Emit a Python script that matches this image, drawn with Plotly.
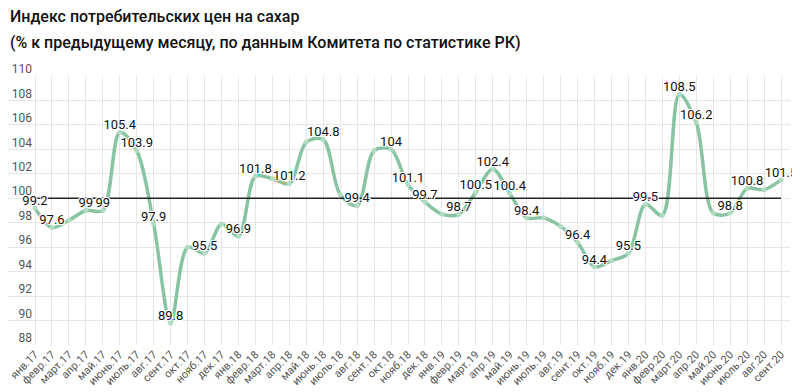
import plotly.graph_objects as go

months = ["янв.17","февр.17","март.17","апр.17","май.17","июнь.17","июль.17","авг.17","сент.17","окт.17","нояб.17","дек.17",
          "янв.18","февр.18","март.18","апр.18","май.18","июнь.18","июль.18","авг.18","сент.18","окт.18","нояб.18","дек.18",
          "янв.19","февр.19","март.19","апр.19","май.19","июнь.19","июль.19","авг.19","сент.19","окт.19","нояб.19","дек.19",
          "янв.20","февр.20","март.20","апр.20","май.20","июнь.20","июль.20","авг.20","сент.20"]
values = [99.2, 97.6, 98.2, 99.0, 99.0, 105.4, 103.9, 97.9, 89.8, 96.0, 95.5, 97.9,
          96.9, 101.8, 101.6, 101.2, 104.6, 104.8, 100.3, 99.4, 103.9, 104.0, 101.1, 99.7,
          98.7, 98.7, 100.5, 102.4, 100.4, 98.4, 98.4, 97.7, 96.4, 94.4, 94.9, 95.5,
          99.5, 98.6, 108.5, 106.2, 98.8, 98.8, 100.8, 100.7, 101.5]
labels = ["99.2","97.6","","99","99","105.4","103.9","97.9","89.8","","95.5","",
          "96.9","101.8","","101.2","","104.8","","99.4","","104","101.1","99.7",
          "","98.7","100.5","102.4","100.4","98.4","","","96.4","94.4","","95.5",
          "99.5","","108.5","106.2","","98.8","100.8","","101.5"]
baseline = 100
title_lines = ["Индекс потребительских цен на сахар",
               "(% к предыдущему месяцу, по данным Комитета по статистике РК)"]

fig = go.Figure()
fig.add_trace(go.Scatter(
    x=months, y=values, mode="lines+markers",
    line=dict(color="#88c4a2", width=3.5, shape="spline", smoothing=0.9),
    marker=dict(size=5, color="#b3dcc4"),
    showlegend=False))
fig.add_trace(go.Scatter(
    x=[months[0], months[-1]], y=[baseline, baseline], mode="lines",
    line=dict(color="#222222", width=1.5), hoverinfo="skip", showlegend=False))
fig.add_trace(go.Scatter(
    x=months, y=values, mode="text",
    text=labels, textposition="top center",
    textfont=dict(family="Roboto", size=13, color="#111111",
                  shadow="-1px -1px 0 #fff, 1px -1px 0 #fff, -1px 1px 0 #fff, 1px 1px 0 #fff, 0 0 2px #fff"),
    showlegend=False, hoverinfo="skip", cliponaxis=False))

fig.add_annotation(text=title_lines[0], xref="paper", yref="paper",
                   x=0.0, y=1.223, xanchor="left", yanchor="middle", showarrow=False,
                   font=dict(family="Roboto", size=16, color="#111111", weight=500))
fig.add_annotation(text=title_lines[1], xref="paper", yref="paper",
                   x=0.0, y=1.126, xanchor="left", yanchor="middle", showarrow=False,
                   font=dict(family="Roboto", size=16, color="#111111", weight=500))

fig.update_layout(
    width=792, height=384,
    margin=dict(l=0, r=10, t=68, b=47),
    paper_bgcolor="white", plot_bgcolor="white",
    font=dict(family="Roboto", color="#555555"),
)
fig.update_xaxes(
    type="category", categoryorder="array", categoryarray=months,
    range=[-1.593, 44.53], showgrid=True, gridcolor="#e6e6e6", gridwidth=1,
    tickangle=-45, tickfont=dict(size=11, color="#555555"), showline=False, zeroline=False,
    ticks="", automargin=False)
fig.update_yaxes(
    range=[88, 110], dtick=2, showgrid=True, gridcolor="#e6e6e6", gridwidth=1,
    ticklabelposition="outside", ticklabelstandoff=-25, ticklabelshift=-7,
    tickfont=dict(size=12, color="#555555"),
    zeroline=False, showline=False, automargin=False)

fig.write_html("out.html")
